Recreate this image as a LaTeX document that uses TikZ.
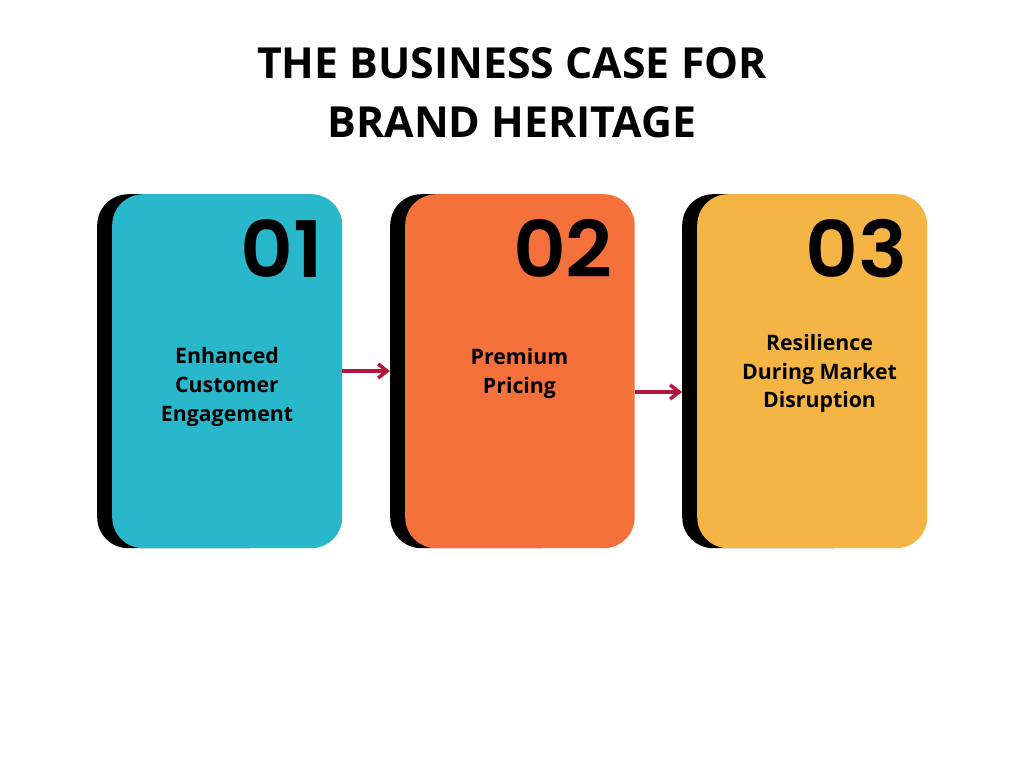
\documentclass[tikz,border=0pt]{standalone}
\usepackage{fontspec}
\setmainfont{Open Sans}
\newfontfamily\numfont{Poppins SemiBold}
\usetikzlibrary{arrows.meta}
\definecolor{cardA}{HTML}{29B7CB}
\definecolor{cardB}{HTML}{F4713C}
\definecolor{cardC}{HTML}{F5B544}
\definecolor{arrowc}{HTML}{B3173F}
\tikzset{
 shadowbox/.style={fill=black,rounded corners=31pt,minimum width=180pt,minimum height=354pt,anchor=north west,inner sep=0pt},
 cardbox/.style={rounded corners=31pt,minimum width=230pt,minimum height=354pt,anchor=north west,inner sep=0pt},
 numlabel/.style={font=\numfont\fontsize{78}{78}\selectfont,anchor=center,inner sep=0pt,xscale=1.05},
 cardtext/.style={font=\fontsize{21.3}{28.7}\selectfont\bfseries,align=center,anchor=center,inner sep=0pt},
 titletext/.style={font=\fontsize{42.8}{59}\selectfont\bfseries,align=center,anchor=center,inner sep=0pt},
 flow/.style={draw=arrowc,line width=4pt,-{Straight Barb[length=9pt,width=14pt,line width=3.5pt]}}
}
\begin{document}
\begin{tikzpicture}[x=1pt,y=-1pt]
\useasboundingbox (0,0) rectangle (1024,768);
\fill[white] (0,0) rectangle (1024,768);
\node[titletext] (title) at (512,92.5) {THE BUSINESS CASE FOR\\BRAND HERITAGE};
\node[shadowbox] (s1) at (97,194) {};
\node[shadowbox] (s2) at (390,194) {};
\node[shadowbox] (s3) at (682,194) {};
\node[cardbox,fill=cardA] (c1) at (112,194) {};
\node[cardbox,fill=cardB,minimum width=229.5pt] (c2) at (405,194) {};
\node[cardbox,fill=cardC] (c3) at (697,194) {};
\node[numlabel] (n1) at (281.5,248.5) {01};
\node[numlabel] (n2) at (563,248.5) {02};
\node[numlabel] (n3) at (856.5,248.5) {03};
\node[cardtext] (t1) at (227,387) {Enhanced\\Customer\\Engagement};
\node[cardtext] (t2) at (519.5,373.5) {Premium\\Pricing};
\node[cardtext] (t3) at (819.5,373.5) {Resilience\\During Market\\Disruption};
\coordinate (a1) at (342,371);
\coordinate (b1) at (390,371);
\coordinate (a2) at (635,392);
\coordinate (b2) at (682,392);
\draw[flow] (a1) -- (b1);
\draw[flow] (a2) -- (b2);
\end{tikzpicture}
\end{document}
